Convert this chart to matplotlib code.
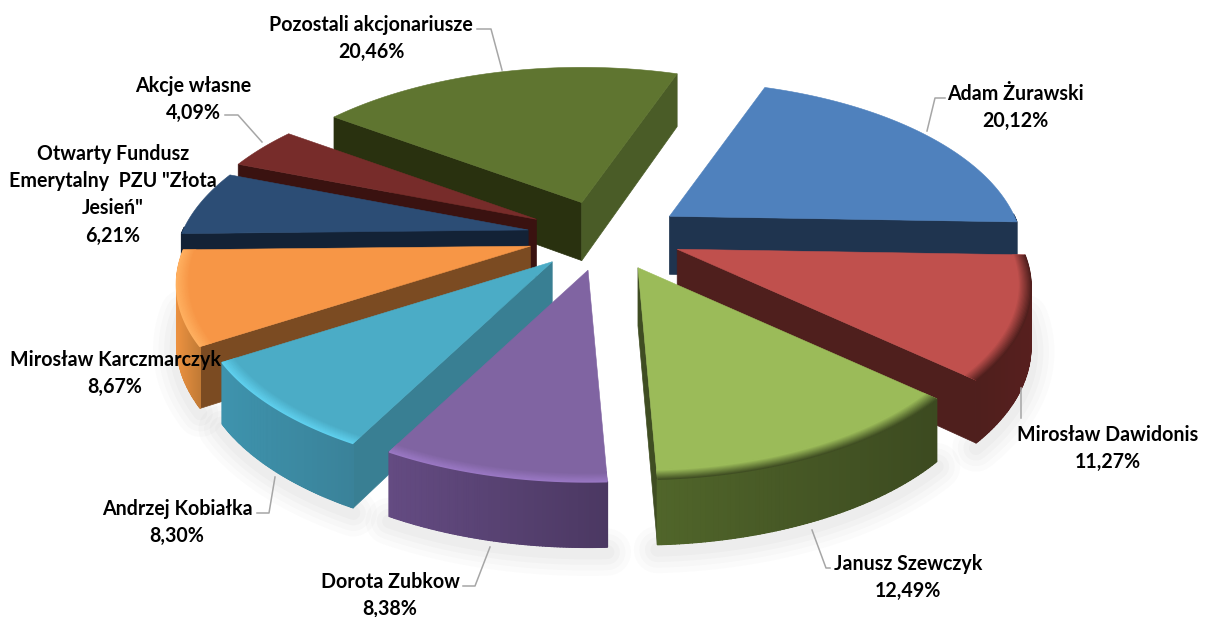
import numpy as np
import matplotlib
matplotlib.use("Agg")
import matplotlib.pyplot as plt
from matplotlib.colors import to_rgb

# ---- data -------------------------------------------------------------
names = ["Adam Żurawski", "Mirosław Dawidonis", "Janusz Szewczyk", "Dorota Zubkow",
         "Andrzej Kobiałka", "Mirosław Karczmarczyk",
         "Otwarty Fundusz\nEmerytalny  PZU \"Złota\nJesień\"", "Akcje własne",
         "Pozostali akcjonariusze"]
shares = [20.12, 11.27, 12.49, 8.38, 8.30, 8.67, 6.21, 4.09, 20.46]
share_text = ["20,12%", "11,27%", "12,49%", "8,38%", "8,30%", "8,67%", "6,21%", "4,09%", "20,46%"]

top_col = ["#4f81bd", "#c0504d", "#9bbb59", "#8064a2", "#4bacc6", "#f79646", "#2c4d75", "#772c2a", "#5f7530"]
start_wall = ["#1f344f", "#4f1f1d", "#3f4d22", "#4e3a66", "#397f93", "#7b4b22", "#132236", "#3a1210", "#29310f"]
end_wall = ["#1f344f", "#4f1f1d", "#3f4d22", "#4e3a66", "#397f93", "#7b4b22", "#132236", "#3a1210", "#4a5c27"]
arc_left = ["#1f344f", "#4f1f1d", "#50652a", "#644b82", "#3e93ad", "#ec9140", "#132236", "#3a1210", "#4a5c27"]
arc_right = ["#1f344f", "#571f1e", "#3c4a20", "#4b3862", "#3a8299", "#c07a35", "#132236", "#3a1210", "#4a5c27"]
rim_col = [None, "#4f1f1d", "#3f4d22", "#9a78c4", "#5fd0ee", "#ffb060", None, None, None]
draw_order = [8, 7, 6, 5, 0, 1, 4, 2, 3]

label_xy = [(1015, 92), (1108, 433), (908, 562), (390, 580), (177, 507), (115, 358), (113, 152), (193, 84), (371, 23)]
leaders = [
    [(945, 98), (935, 98), (927, 131)],
    [(1021, 388), (1021, 418)],
    [(830, 568), (826, 568), (812, 530)],
    [(463, 586), (475, 586), (490, 547)],
    [(257, 513), (269, 513), (275, 477)],
    [(225, 115), (238, 115), (262, 142)],
    [(477, 29), (491, 29), (502, 70)],
]

# ---- projection of the exploded pie --------------------------------------
START = 19.5
CX, CY, EX, EY = 605.0, 236.0, 78.0, 35.0
RX, RY, P, H = 345.0, 165.0, 0.22, 58.0

fig = plt.figure(figsize=(12.08, 6.17), dpi=100)
ax = fig.add_axes([0, 0, 1, 1])
ax.set_xlim(0, 1208)
ax.set_ylim(617, 0)
ax.axis("off")

ang = START + np.concatenate([[0], np.cumsum(shares)]) / sum(shares) * 360.0
z = [2]


def nextz():
    z[0] += 1
    return z[0]


def proj(i, theta, r=1.0):
    mid = np.radians((ang[i] + ang[i + 1]) / 2)
    t = np.radians(theta)
    den = 1 + P * r * np.cos(t)
    x = CX + EX * np.sin(mid) + RX * r * np.sin(t) / den
    y = CY - EY * np.cos(mid) - RY * r * np.cos(t) / den
    return x, y, H / np.sqrt(den)


def arc(i, r=1.0, n=80):
    th = np.linspace(ang[i], ang[i + 1], n)
    return proj(i, th, r)


def mix(a, b, f):
    a, b = np.array(to_rgb(a)), np.array(to_rgb(b))
    return tuple(a + (b - a) * f)


# soft ground shadow below the front arcs
for i in [1, 2, 3, 4, 5]:
    x, y, h = arc(i)
    for lw, al in [(34, .018), (26, .022), (18, .026), (10, .03)]:
        ax.plot(x, y + h + 5, color="#555555", lw=lw, alpha=al, zorder=1, solid_capstyle="round")

for i in draw_order:
    # cut faces
    for theta, col, vis in [(ang[i], start_wall[i], -1), (ang[i + 1], end_wall[i], 1)]:
        x0, y0, h0 = proj(i, theta, 0.0)
        x1, y1, h1 = proj(i, theta, 1.0)
        if (x1 - x0) * vis > 0:
            ax.fill([x0, x1, x1, x0], [y0, y1, y1 + h1, y0 + h0], color=col, lw=.5, zorder=nextz())
    # outer wall, visible on the front half only
    x, y, h = arc(i)
    keep = np.cos(np.radians(np.linspace(ang[i], ang[i + 1], len(x)))) < 0.02
    if keep.sum() > 1:
        xk, yk, hk = x[keep], y[keep], h[keep]
        zw = nextz()
        ax.fill(np.r_[xk, xk[::-1]], np.r_[yk, (yk + hk)[::-1]],
                color=mix(arc_left[i], arc_right[i], .5), lw=.4, zorder=zw)
        xmin, xmax = x.min(), x.max()
        zs = nextz()
        for k in range(len(xk) - 1):
            f = (0.5 * (xk[k] + xk[k + 1]) - xmin) / max(xmax - xmin, 1)
            ax.fill([xk[k], xk[k + 1], xk[k + 1], xk[k]],
                    [yk[k], yk[k + 1], yk[k + 1] + hk[k + 1], yk[k] + hk[k]],
                    color=mix(arc_left[i], arc_right[i], f), lw=1.0, zorder=zs)
    # top face
    x0, y0, _ = proj(i, ang[i], 0.0)
    ax.fill(np.r_[x0, x], np.r_[y0, y], color=top_col[i], lw=.4, zorder=nextz())
    # bevel along the outer top edge
    if rim_col[i] is not None:
        zb = nextz()
        steps = np.linspace(1.0, 0.965, 12)
        for s, r in enumerate(steps):
            xr, yr, _ = arc(i, r)
            ax.plot(xr, yr, color=mix(rim_col[i], top_col[i], s / (len(steps) - 1)),
                    lw=1.4, zorder=zb + s * 0.01, solid_capstyle="butt")

# leader lines and labels
for line in leaders:
    xs, ys = zip(*line)
    ax.plot(xs, ys, color="#a6a6a6", lw=1.1, zorder=200)

for nm, pct, (lx, ly) in zip(names, share_text, label_xy):
    ax.text(lx, ly - 8, nm + "\n" + pct, ha="center", va="top",
            fontfamily="Lato", fontweight="bold", fontsize=14.1, color="black",
            linespacing=1.45, zorder=300)

fig.savefig("out.png", dpi=100, facecolor="white")
